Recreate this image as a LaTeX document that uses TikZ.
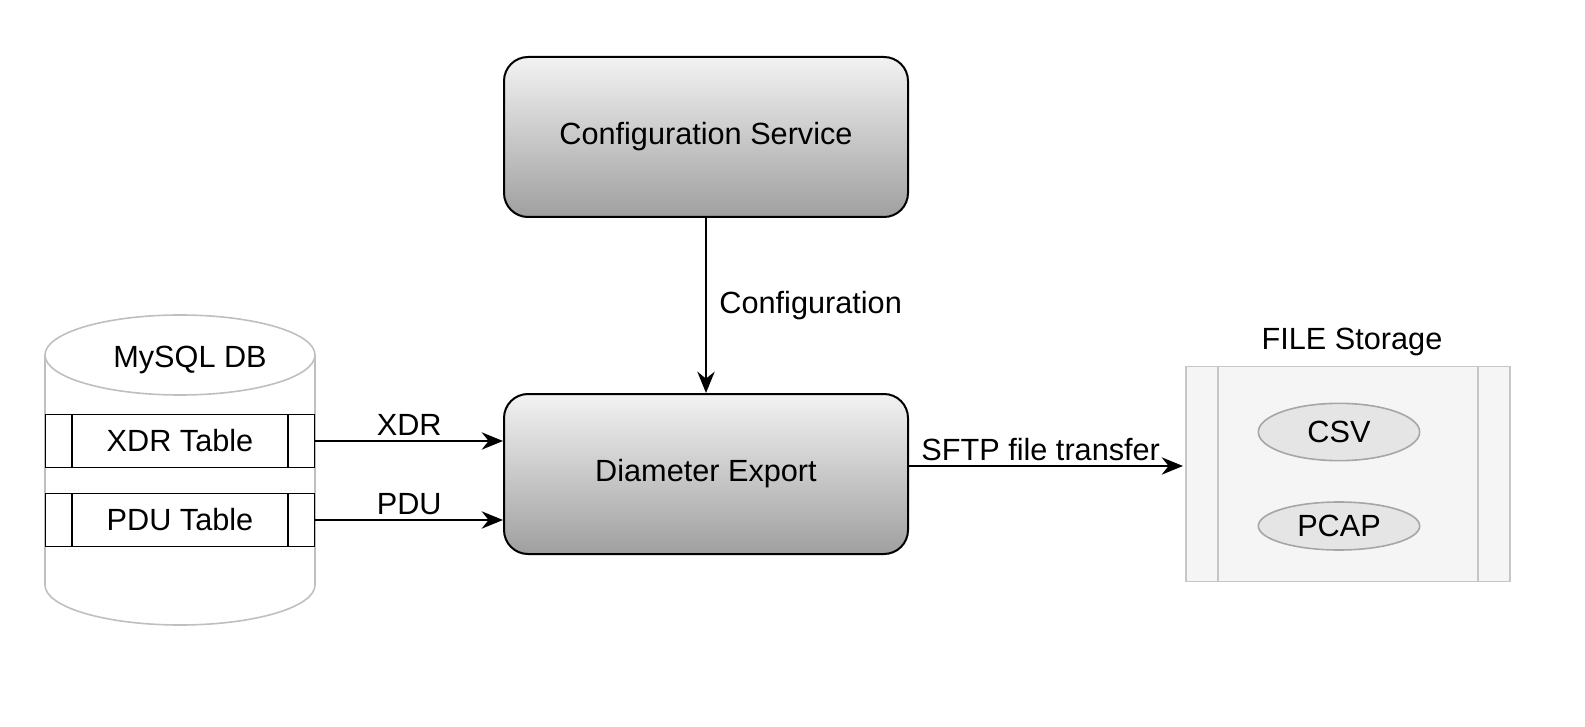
\documentclass[tikz,border=0pt]{standalone}
\usepackage{fontspec}
\setmainfont{Liberation Sans}
\usetikzlibrary{arrows.meta,shapes.geometric}
\begin{document}
\begin{tikzpicture}[x=0.75pt,y=-0.75pt,
  box/.style={draw=black,line width=1.5pt,rounded corners=18pt,top color=gray!10,bottom color=gray!75,minimum width=303pt,minimum height=120pt,font=\fontsize{23}{27}\selectfont},
  lbl/.style={font=\fontsize{23}{27}\selectfont},
  arr/.style={-{Stealth[length=16pt,width=13pt]},line width=1.5pt},
  tbl/.style={draw=black,line width=1.2pt,fill=white,minimum width=202pt,minimum height=40pt,font=\fontsize{23}{27}\selectfont},
  ov/.style={ellipse,draw=gray!70,line width=1.2pt,fill=gray!20,minimum width=121pt,font=\fontsize{23}{27}\selectfont}]
\useasboundingbox (0,0) rectangle (1585,727);
\node[box] (cs) at (706,137) {Configuration Service};
\node[box] (de) at (706,474) {Diameter Export};
% cylinder
\draw[draw=gray!50,line width=1.2pt,fill=white] (45,355) -- (45,585) arc[start angle=180,end angle=0,x radius=135,y radius=40] -- (315,355) arc[start angle=0,end angle=-180,x radius=135,y radius=40] -- cycle;
\draw[draw=gray!50,line width=1.2pt] (45,355) arc[start angle=180,end angle=0,x radius=135,y radius=40];
\node[lbl] (db) at (190,360) {MySQL DB};
\node[tbl] (xdr) at (180,441) {XDR Table};
\draw[line width=1.2pt] (72,415) -- (72,468) (288,415) -- (288,468);
\node[tbl] (pdu) at (180,520) {PDU Table};
\draw[line width=1.2pt] (72,494) -- (72,547) (288,494) -- (288,547);
% storage
\node[draw=gray!45,fill=gray!8,line width=1.2pt,minimum width=243pt,minimum height=161pt] (fs) at (1348,474) {};
\draw[gray!45,line width=1.2pt] (1218,367) -- (1218,582) (1478,367) -- (1478,582);
\node[lbl] (fst) at (1352,342) {FILE Storage};
\node[ov,minimum height=43pt] (csv) at (1339,432) {CSV};
\node[ov,minimum height=36pt] (pcap) at (1339,526) {PCAP};
% arrows
\draw[arr] (cs.south) -- (de.north) node[lbl,midway,right=6pt] {Configuration};
\draw[arr] (xdr.east) -- (de.west |- xdr.east) node[lbl,midway,above] {XDR};
\draw[arr] (pdu.east) -- (de.west |- pdu.east) node[lbl,midway,above] {PDU};
\coordinate (fsw) at (1183,466);
\draw[arr] (de.east |- fsw) -- (fsw) node[lbl,midway,above,xshift=-4pt] {SFTP file transfer};
\end{tikzpicture}
\end{document}
